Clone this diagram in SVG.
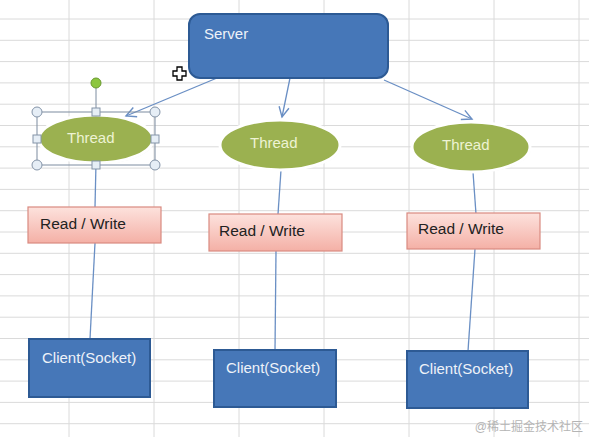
<svg xmlns="http://www.w3.org/2000/svg" width="589" height="437" viewBox="0 0 589 437">
<style>
.grid line{stroke:#dadada;stroke-width:1}
.blue{fill:#4677b8;stroke:#2d5a94;stroke-width:2}
.thread{fill:#9bb150;stroke:#ffffff;stroke-width:3}
.rw{fill:url(#rwg);stroke:#d98a80;stroke-width:1.2}
.wt{font-family:"Liberation Sans",Arial,sans-serif;font-size:15px;fill:#eef2f8}
.tt{font-family:"Liberation Sans",Arial,sans-serif;font-size:15px;fill:#eef3d4}
.dt{font-family:"Liberation Sans",Arial,sans-serif;font-size:15.5px;fill:#222222}
.conn line{stroke:#6a8fc4;stroke-width:1.3;fill:none}
.h{fill:#e6eef6;stroke:#8494a8;stroke-width:1}
</style>
<defs>
<linearGradient id="rwg" x1="0" y1="0" x2="0" y2="1">
<stop offset="0" stop-color="#fde2dd"/>
<stop offset="1" stop-color="#f4b0a6"/>
</linearGradient>
<marker id="arr" markerUnits="userSpaceOnUse" markerWidth="14" markerHeight="14" refX="12" refY="7" orient="auto">
<path d="M2,2 L12,7 L2,12" fill="none" stroke="#6a8fc4" stroke-width="1.4"/>
</marker>
</defs>
<rect width="589" height="437" fill="#ffffff"/>
<g class="grid">
<line x1="69" y1="0" x2="69" y2="437"/>
<line x1="154" y1="0" x2="154" y2="437"/>
<line x1="239" y1="0" x2="239" y2="437"/>
<line x1="324" y1="0" x2="324" y2="437"/>
<line x1="409" y1="0" x2="409" y2="437"/>
<line x1="494" y1="0" x2="494" y2="437"/>
<line x1="579" y1="0" x2="579" y2="437"/>
<line x1="0" y1="19" x2="589" y2="19"/>
<line x1="0" y1="40.3" x2="589" y2="40.3"/>
<line x1="0" y1="61.6" x2="589" y2="61.6"/>
<line x1="0" y1="82.9" x2="589" y2="82.9"/>
<line x1="0" y1="104.2" x2="589" y2="104.2"/>
<line x1="0" y1="125.5" x2="589" y2="125.5"/>
<line x1="0" y1="146.8" x2="589" y2="146.8"/>
<line x1="0" y1="168.1" x2="589" y2="168.1"/>
<line x1="0" y1="189.4" x2="589" y2="189.4"/>
<line x1="0" y1="210.7" x2="589" y2="210.7"/>
<line x1="0" y1="232" x2="589" y2="232"/>
<line x1="0" y1="253.3" x2="589" y2="253.3"/>
<line x1="0" y1="274.6" x2="589" y2="274.6"/>
<line x1="0" y1="295.9" x2="589" y2="295.9"/>
<line x1="0" y1="317.2" x2="589" y2="317.2"/>
<line x1="0" y1="338.5" x2="589" y2="338.5"/>
<line x1="0" y1="359.8" x2="589" y2="359.8"/>
<line x1="0" y1="381.1" x2="589" y2="381.1"/>
<line x1="0" y1="402.4" x2="589" y2="402.4"/>
<line x1="0" y1="423.7" x2="589" y2="423.7"/>
</g>
<g id="connectors" class="conn">
<line x1="217" y1="78" x2="126" y2="116" marker-end="url(#arr)"/>
<line x1="290" y1="78" x2="282" y2="117" marker-end="url(#arr)"/>
<line x1="384" y1="80" x2="472" y2="119" marker-end="url(#arr)"/>
<line x1="96" y1="163" x2="95" y2="207"/>
<line x1="95" y1="243" x2="90" y2="339"/>
<line x1="281" y1="170" x2="278" y2="214"/>
<line x1="276" y1="251" x2="275" y2="350"/>
<line x1="473" y1="172" x2="476" y2="214"/>
<line x1="475" y1="249" x2="468" y2="351"/>
</g>
<g id="server">
<rect x="189" y="14" width="199" height="64" rx="11" class="blue"/>
<text x="204" y="39" class="wt">Server</text>
</g>
<g id="thread1">
<ellipse cx="97" cy="140" rx="57" ry="24" fill="#e4e4e4" opacity="0.6"/>
<ellipse cx="96" cy="139" rx="57" ry="24" class="thread"/>
<text x="67" y="143" class="tt">Thread</text>
</g>
<g id="selection">
<rect x="37" y="112" width="118" height="53" fill="none" stroke="#7d8ca0" stroke-width="1"/>
<line x1="96" y1="83" x2="96" y2="112" stroke="#7d8ca0" stroke-width="1"/>
<circle cx="96" cy="83" r="5" fill="#8cc63f" stroke="#6a9a30" stroke-width="1"/>
<circle cx="37" cy="112" r="5" class="h"/>
<circle cx="155" cy="112" r="5" class="h"/>
<circle cx="37" cy="165" r="5" class="h"/>
<circle cx="155" cy="165" r="5" class="h"/>
<rect x="92" y="108" width="8" height="8" class="h"/>
<rect x="92" y="161" width="8" height="8" class="h"/>
<rect x="33" y="135" width="8" height="8" class="h"/>
<rect x="151" y="135" width="8" height="8" class="h"/>
</g>
<g id="thread2">
<ellipse cx="281" cy="146" rx="60" ry="25" fill="#e4e4e4" opacity="0.6"/>
<ellipse cx="280" cy="145" rx="60" ry="25" class="thread"/>
<text x="250" y="148" class="tt">Thread</text>
</g>
<g id="thread3">
<ellipse cx="472" cy="148" rx="59" ry="25" fill="#e4e4e4" opacity="0.6"/>
<ellipse cx="471" cy="147" rx="59" ry="25" class="thread"/>
<text x="442" y="150" class="tt">Thread</text>
</g>
<g id="rw1">
<rect x="28" y="207" width="133" height="36" class="rw"/>
<text x="40" y="229" class="dt">Read / Write</text>
</g>
<g id="rw2">
<rect x="209" y="214" width="133" height="37" class="rw"/>
<text x="219" y="236" class="dt">Read / Write</text>
</g>
<g id="rw3">
<rect x="407" y="213" width="133" height="36" class="rw"/>
<text x="418" y="234" class="dt">Read / Write</text>
</g>
<g id="client1">
<rect x="29" y="339" width="121" height="58" class="blue"/>
<text x="42" y="363" class="wt">Client(Socket)</text>
</g>
<g id="client2">
<rect x="214" y="350" width="122" height="57" class="blue"/>
<text x="226" y="373" class="wt">Client(Socket)</text>
</g>
<g id="client3">
<rect x="407" y="351" width="121" height="57" class="blue"/>
<text x="419" y="374" class="wt">Client(Socket)</text>
</g>
<g id="cursor">
<path d="M177,67 h5 v4 h4 v5 h-4 v4 h-5 v-4 h-4 v-5 h4 z" fill="#ffffff" stroke="#000000" stroke-width="1.3"/>
</g>
<text x="583" y="431" text-anchor="end" font-family="'Liberation Sans','Noto Sans CJK SC',sans-serif" font-size="12" fill="#b4b4b4">@稀土掘金技术社区</text>
</svg>
